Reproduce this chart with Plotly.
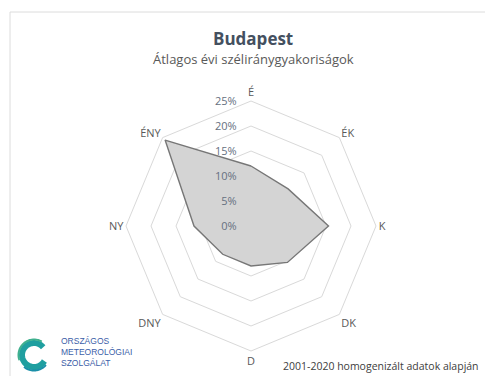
import numpy as np
import plotly.graph_objects as go

# Wind directions (Hungarian compass labels) and mean annual frequency in percent
directions = ["É", "ÉK", "K", "DK", "D", "DNY", "NY", "ÉNY"]
frequency = [12, 10.5, 15.5, 10.3, 8, 8, 11.4, 24.3]
radial_ticks = [0, 5, 10, 15, 20, 25]

W, H = 485, 376
TXT = "#595959"
GRID = "#d9d9d9"


def px(x, y):
    """Convert pixel position (from top-left) to paper coordinates."""
    return x / W, 1 - y / H


fig = go.Figure()
fig.add_trace(go.Scatterpolar(
    r=frequency + frequency[:1],
    theta=directions + directions[:1],
    mode="lines",
    fill="toself",
    fillcolor="#d4d4d4",
    line=dict(color="#777777", width=1.4),
    hoverinfo="skip",
    showlegend=False,
))

x0, y1 = px(126, 101)
x1, y0 = px(376, 351)
fig.update_layout(
    width=W, height=H,
    margin=dict(l=0, r=0, t=0, b=0),
    paper_bgcolor="white",
    plot_bgcolor="white",
    font=dict(family="Open Sans", color=TXT),
    polar=dict(
        domain=dict(x=[x0, x1], y=[y0, y1]),
        bgcolor="white",
        gridshape="linear",
        radialaxis=dict(
            range=[0, 25],
            tickvals=radial_ticks,
            ticktext=[f"{v}%" for v in radial_ticks],
            angle=90,
            tickangle=90,
            side="counterclockwise",
            showline=False,
            ticks="outside",
            ticklen=10,
            tickcolor="rgba(0,0,0,0)",
            gridcolor=GRID,
            gridwidth=1,
            tickfont=dict(size=11, color="#667080"),
        ),
        angularaxis=dict(
            type="category",
            categoryarray=directions,
            direction="clockwise",
            rotation=90,
            showgrid=False,
            ticks="",
            linecolor=GRID,
            linewidth=1,
            tickfont=dict(size=11, color=TXT),
        ),
    ),
)


def note(x, y, text, size, color, xanchor="center", family=None, align="center"):
    ax, ay = px(x, y)
    f = dict(size=size, color=color)
    if family:
        f["family"] = family
    return dict(x=ax, y=ay, xref="paper", yref="paper", xanchor=xanchor, yanchor="middle",
                text=text, showarrow=False, font=f, align=align)


annotations = [
    note(253, 38, "<b>Budapest</b>", 17, "#44505f"),
    note(253, 59, "Átlagos évi széliránygyakoriságok", 13, TXT),
    note(281, 366, "2001-2020 homogenizált adatok alapján", 10.5, "#404040", xanchor="left"),
    note(59, 352, "ORSZÁGOS<br>METEOROLÓGIAI<br>SZOLGÁLAT", 8.5, "#3b5ea8",
         xanchor="left", family="Liberation Sans", align="left"),
]
fig.update_layout(annotations=annotations)

shapes = []
# chart frame
bx0, by1 = px(10, 12)
shapes.append(dict(type="rect", xref="paper", yref="paper", x0=bx0, y0=-0.02, x1=1.02, y1=by1,
                   line=dict(color="#dcdcdc", width=1), layer="below"))


# logo swirl
def arc(cx, cy, r, a0, a1, n=50):
    t = np.linspace(np.radians(a0), np.radians(a1), n)
    pts = [px(cx + r * np.cos(a), cy - r * np.sin(a)) for a in t]
    return "M " + " L ".join(f"{x:.5f},{y:.5f}" for x, y in pts)


shapes.append(dict(type="path", xref="paper", yref="paper", path=arc(34, 355, 12, 40, 330),
                   line=dict(color="#1f9fa0", width=6)))
shapes.append(dict(type="path", xref="paper", yref="paper", path=arc(34, 355, 15.5, 60, 200),
                   line=dict(color="#3fb08e", width=2)))
shapes.append(dict(type="path", xref="paper", yref="paper", path=arc(34, 355, 15.5, 230, 320),
                   line=dict(color="#1a8fa8", width=2)))
fig.update_layout(shapes=shapes)

fig.write_html("out.html", config={"displayModeBar": False})
